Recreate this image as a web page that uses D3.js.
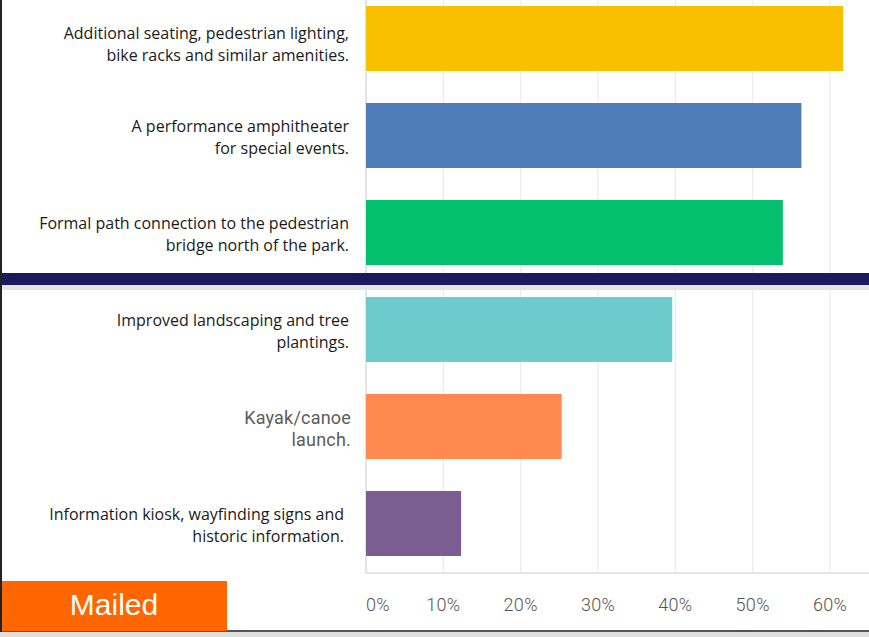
<!DOCTYPE html>
<html>
<head>
<meta charset="utf-8">
<script src="https://cdn.jsdelivr.net/npm/d3@7"></script>
<style>
  body { margin: 0; background: #fff; }
  svg { display: block; }
</style>
</head>
<body>
<script>
// data
const labels = [
    ["Additional seating, pedestrian lighting,", "bike racks and similar amenities."],
    ["A performance amphitheater", "for special events."],
    ["Formal path connection to the pedestrian", "bridge north of the park."],
    ["Improved landscaping and tree", "plantings."],
    ["Kayak/canoe", "launch."],
    ["Information kiosk, wayfinding signs and", "historic information."]
];
const values = [61.7, 56.3, 53.9, 39.6, 25.3, 12.3];
const barColors = ["#f8c000", "#4f7cb8", "#03c06e", "#6ecbcd", "#fe8a4f", "#7b5e91"];
const tickValues = [0, 10, 20, 30, 40, 50, 60];
const badgeText = "Mailed";

const W = 869, H = 637;
const svg = d3.select("body").append("svg")
    .attr("width", W)
    .attr("height", H);

// x scale: 0% at 366, 60% at 829
const x = d3.scaleLinear()
    .domain([0, 60])
    .range([366, 830]);

// rows: step 97, bar 65 tall, first bar at y=6
const y = d3.scaleBand()
    .domain(d3.range(labels.length))
    .range([-10, 572])
    .paddingInner(0.33)
    .paddingOuter(0.165);

// gridlines
svg.append("g")
    .selectAll("line")
    .data(tickValues)
    .join("line")
    .attr("x1", d => x(d)).attr("x2", d => x(d))
    .attr("y1", 0).attr("y2", 573)
    .attr("stroke", d => d === 0 ? "#d6d6d6" : "#ececec")
    .attr("stroke-width", 1.3);

svg.append("line")
    .attr("x1", x(0)).attr("x2", W)
    .attr("y1", 573).attr("y2", 573)
    .attr("stroke", "#dcdcdc")
    .attr("stroke-width", 1.3);

// bars
svg.append("g")
    .selectAll("rect")
    .data(values)
    .join("rect")
    .attr("x", x(0))
    .attr("y", (d, i) => y(i))
    .attr("width", d => x(d) - x(0))
    .attr("height", y.bandwidth())
    .attr("fill", (d, i) => barColors[i]);

// category labels (the kayak one is in the survey tool's own grey font)
const lab = svg.append("g")
    .selectAll("text")
    .data(labels)
    .join("text")
    .attr("text-anchor", "end")
    .attr("x", (d, i) => i === 4 ? 351 : (i === 5 ? 344 : 349))
    .attr("y", (d, i) => y(i) + y.bandwidth() / 2 - 9 + (i === 0 ? 4 : 0))
    .style("font-family", (d, i) => i === 4 ? "Roboto, 'Liberation Sans', sans-serif" : "'Open Sans', sans-serif")
    .style("font-size", (d, i) => i === 4 ? "18px" : "16px")
    .style("letter-spacing", (d, i) => i === 4 ? "0.2px" : "0px")
    .attr("fill", (d, i) => i === 4 ? "#5c5c5c" : "#1a1a1a");

lab.selectAll("tspan")
    .data(d => d)
    .join("tspan")
    .attr("x", function() { return this.parentNode.getAttribute("x"); })
    .attr("dy", (d, j) => j === 0 ? "0.35em" : "22px")
    .text(d => d);

// x axis tick labels
svg.append("g")
    .selectAll("text")
    .data(tickValues)
    .join("text")
    .attr("x", d => x(d))
    .attr("y", 611)
    .attr("text-anchor", d => d === 0 ? "start" : "middle")
    .style("font-family", "Roboto, 'Liberation Sans', sans-serif")
    .style("font-size", "18px")
    .style("font-weight", 300)
    .style("letter-spacing", "0.3px")
    .attr("fill", "#555")
    .text(d => d + "%");

// dark separator band with soft shadow
svg.append("rect")
    .attr("x", 0).attr("y", 285)
    .attr("width", W).attr("height", 5)
    .attr("fill", "#e4e4e4");
svg.append("rect")
    .attr("x", 0).attr("y", 273)
    .attr("width", W).attr("height", 12)
    .attr("fill", "#1b1a5c");

// frame: left border and bottom strip
svg.append("rect")
    .attr("x", 0).attr("y", 632)
    .attr("width", W).attr("height", 5)
    .attr("fill", "#dedede");
svg.append("line")
    .attr("x1", 0).attr("x2", W)
    .attr("y1", 631).attr("y2", 631)
    .attr("stroke", "#555")
    .attr("stroke-width", 2);
svg.append("line")
    .attr("x1", 1).attr("x2", 1)
    .attr("y1", 0).attr("y2", 632)
    .attr("stroke", "#222")
    .attr("stroke-width", 2);

// "Mailed" badge
svg.append("rect")
    .attr("x", 2).attr("y", 581)
    .attr("width", 225).attr("height", 50)
    .attr("fill", "#ff6600");
svg.append("text")
    .attr("x", 114)
    .attr("y", 615)
    .attr("text-anchor", "middle")
    .style("font-family", "'Liberation Sans', Arial, sans-serif")
    .style("font-size", "30px")
    .attr("fill", "#fff")
    .text(badgeText);
</script>
</body>
</html>
